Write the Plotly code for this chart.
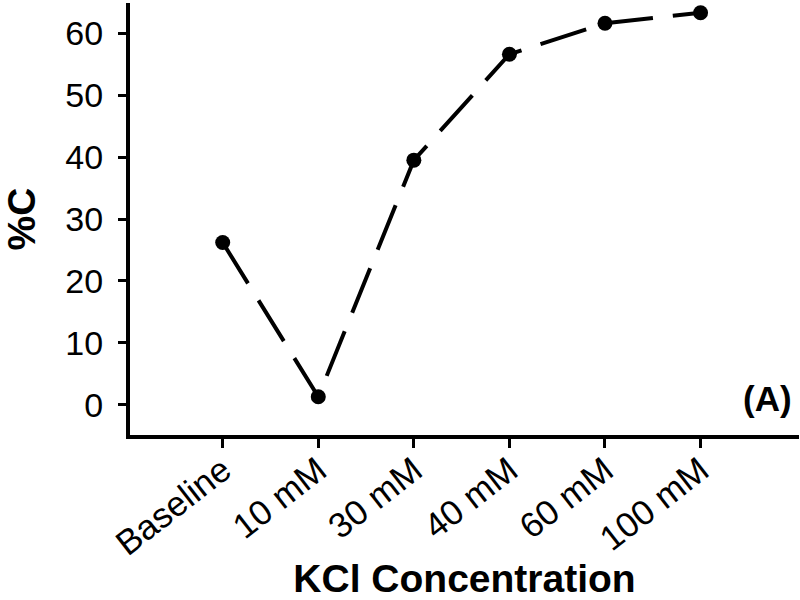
import plotly.graph_objects as go

categories = ["Baseline", "10 mM", "30 mM", "40 mM", "60 mM", "100 mM"]
percent_c = [26.2, 1.3, 39.5, 56.6, 61.6, 63.3]
y_ticks = [0, 10, 20, 30, 40, 50, 60]

fig = go.Figure()
fig.add_trace(go.Scatter(
    x=categories, y=percent_c, mode="lines+markers",
    line=dict(color="black", width=4, dash="48px,20px"),
    marker=dict(color="black", size=15),
    showlegend=False,
))

fig.update_layout(
    width=800, height=600,
    margin=dict(l=130, r=1, t=3, b=165),
    paper_bgcolor="white", plot_bgcolor="white",
    font=dict(family="Liberation Sans, Arial, sans-serif", color="black"),
    xaxis=dict(
        type="category", range=[-0.97, 6.03], automargin=False,
        showline=True, linecolor="black", linewidth=4,
        ticks="outside", ticklen=9, tickwidth=3, tickcolor="black",
        tickangle=-38, tickfont=dict(size=35), ticklabelstandoff=-12,
        showgrid=False, zeroline=False,
        title=dict(text="<b>KCl Concentration</b>", font=dict(size=39), standoff=22),
    ),
    yaxis=dict(
        range=[-4.87, 64.87], tickvals=y_ticks, automargin=False,
        showline=True, linecolor="black", linewidth=4,
        ticks="outside", ticklen=8, tickwidth=3, tickcolor="black",
        tickfont=dict(size=34), ticklabelstandoff=8,
        showgrid=False, zeroline=False,
        title=dict(text="<b>%C</b>", font=dict(size=39), standoff=24),
    ),
    annotations=[dict(
        text="<b>(A)</b>", xref="paper", yref="paper", x=0.9925, y=0.085,
        xanchor="right", yanchor="middle", showarrow=False, font=dict(size=35),
    )],
)

fig.write_html("out.html", config={"displayModeBar": False},
               post_script="document.body.style.margin='0';")
